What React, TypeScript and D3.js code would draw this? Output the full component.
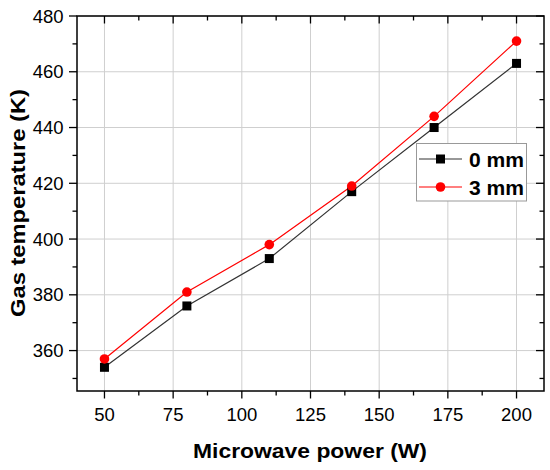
import React from "react";
import * as d3 from "d3";

const power = [50, 80, 110, 140, 170, 200];
const temp0mm = [354, 376, 393, 417, 440, 463];
const temp3mm = [357, 381, 398, 419, 444, 471];
const xTicks = [50, 75, 100, 125, 150, 175, 200];
const yTicks = [360, 380, 400, 420, 440, 460, 480];
const seriesNames = ["0 mm", "3 mm"];

const W = 550, H = 470;
const L = 77, R = 544, T = 16, B = 391;

export default function App() {
  const x = d3.scaleLinear().domain([40, 210]).range([L, R]);
  const y = d3.scaleLinear().domain([345.5, 480]).range([B, T]);
  const line = d3.line<[number, number]>().x(d => x(d[0])).y(d => y(d[1]));
  const d0 = power.map((p, i) => [p, temp0mm[i]] as [number, number]);
  const d3m = power.map((p, i) => [p, temp3mm[i]] as [number, number]);
  const xMinorAll = d3.range(37.5, 212, 12.5).filter(v => v > 40 && v < 210);
  const yMinor = d3.range(350, 480, 10).filter(v => v % 20 !== 0);
  const font = "Arial, 'Liberation Sans', sans-serif";
  return (
    <svg width={W} height={H} style={{ position: "absolute", left: 0, top: 0 }} fontFamily={font}>
      <rect x={0} y={0} width={W} height={H} fill="#fff" />
      {/* grid */}
      {xTicks.map(v => (
        <line key={"gx" + v} x1={x(v)} x2={x(v)} y1={T} y2={B} stroke="#cfcfcf" strokeWidth={1} />
      ))}
      {yTicks.map(v => (
        <line key={"gy" + v} x1={L} x2={R} y1={y(v)} y2={y(v)} stroke="#cfcfcf" strokeWidth={1} />
      ))}
      {xMinorAll.map(v => {
        const major = xTicks.includes(v);
        return (
          <g key={"xt" + v}>
            <line x1={x(v)} x2={x(v)} y1={B} y2={B + (major ? 7.5 : 4.5)} stroke="#000" strokeWidth={1.3} />
            <line x1={x(v)} x2={x(v)} y1={T} y2={T + (major ? 7.5 : 4.5)} stroke="#000" strokeWidth={1.3} />
          </g>
        );
      })}
      {yTicks.concat(yMinor).map(v => {
        const major = yTicks.includes(v);
        return (
          <g key={"yt" + v}>
            <line x1={L} x2={L - (major ? 8 : 4.5)} y1={y(v)} y2={y(v)} stroke="#000" strokeWidth={1.3} />
            <line x1={R} x2={R - (major ? 8 : 4.5)} y1={y(v)} y2={y(v)} stroke="#000" strokeWidth={1.3} />
          </g>
        );
      })}
      <rect x={L} y={T} width={R - L} height={B - T} fill="none" stroke="#000" strokeWidth={1.5} />
      {xTicks.map(v => (
        <text key={"xl" + v} x={x(v)} y={B + 30} fontSize={18.5} textAnchor="middle" fill="#000">{v}</text>
      ))}
      {yTicks.map(v => (
        <text key={"yl" + v} x={L - 13.5} y={y(v) + 6.6} fontSize={18.5} textAnchor="end" fill="#000">{v}</text>
      ))}
      <text x={(193 + 427) / 2} y={458} fontSize={21} fontWeight="bold" textAnchor="middle" fill="#000"
        textLength={234} lengthAdjust="spacingAndGlyphs">Microwave power (W)</text>
      <text transform={`translate(25,203) rotate(-90)`} fontSize={21} fontWeight="bold" textAnchor="middle" fill="#000"
        textLength={228} lengthAdjust="spacingAndGlyphs">Gas temperature (K)</text>
      <path d={line(d0) || ""} fill="none" stroke="#333" strokeWidth={1.2} />
      <path d={line(d3m) || ""} fill="none" stroke="#ff0000" strokeWidth={1.2} />
      {d0.map((d, i) => (
        <rect key={"s" + i} x={x(d[0]) - 4.5} y={y(d[1]) - 4.5} width={9} height={9} fill="#000" />
      ))}
      {d3m.map((d, i) => (
        <circle key={"c" + i} cx={x(d[0])} cy={y(d[1])} r={4.8} fill="#ff0000" />
      ))}
      <rect x={416.5} y={143.5} width={110} height={57.5} fill="#fff" stroke="#999" strokeWidth={1} />
      <line x1={419} x2={462} y1={159} y2={159} stroke="#333" strokeWidth={1.2} />
      <rect x={440.5 - 4.5} y={159 - 4.5} width={9} height={9} fill="#000" />
      <text x={469} y={166.5} fontSize={21} fontWeight="bold" fill="#000" textLength={55} lengthAdjust="spacingAndGlyphs">{seriesNames[0]}</text>
      <line x1={419} x2={462} y1={187} y2={187} stroke="#ff0000" strokeWidth={1.2} />
      <circle cx={440.5} cy={187} r={4.8} fill="#ff0000" />
      <text x={469} y={194.5} fontSize={21} fontWeight="bold" fill="#000" textLength={55} lengthAdjust="spacingAndGlyphs">{seriesNames[1]}</text>
    </svg>
  );
}
